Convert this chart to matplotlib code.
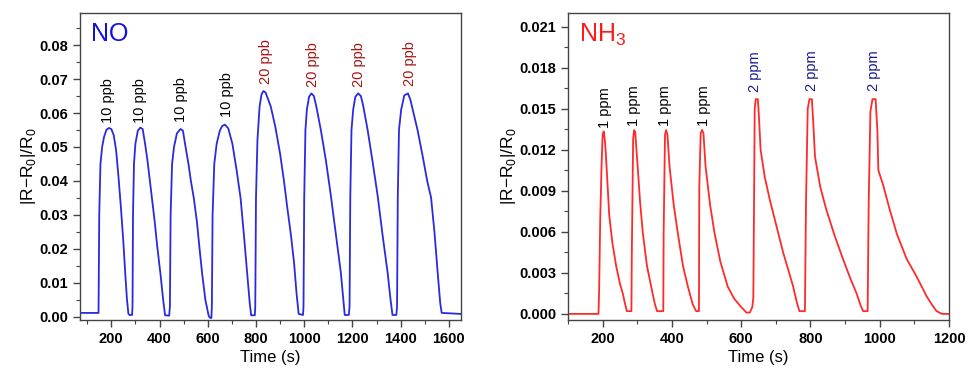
import matplotlib
matplotlib.use('Agg')
import matplotlib.pyplot as plt
from matplotlib.ticker import MultipleLocator

plt.rcParams['font.family'] = ['Liberation Sans', 'DejaVu Sans']
plt.rcParams['mathtext.fontset'] = 'custom'
plt.rcParams['mathtext.rm'] = 'Liberation Sans'

# NO response (time in s, |R-R0|/R0)
no_t = [70, 145, 147, 150, 155, 162, 170, 180, 190, 200, 210, 220, 230, 240, 250, 258, 265, 271, 275, 286,
        288, 290, 294, 300, 310, 320, 330, 340, 350, 360, 370, 380, 390, 404, 415, 423, 440,
        443, 446, 452, 460, 472, 487, 497, 508, 520, 530, 542, 555, 566, 577, 590, 603, 608, 615,
        617, 620, 627, 637, 650, 660, 671, 685, 702, 720, 736, 750, 764, 774, 780, 795,
        797, 800, 806, 815, 823, 831, 840, 861, 880, 900, 916, 930, 945, 958, 968, 977, 995,
        997, 1000, 1005, 1011, 1020, 1030, 1040, 1050, 1069, 1090, 1111, 1130, 1152, 1162, 1168, 1185,
        1188, 1191, 1196, 1203, 1212, 1224, 1235, 1245, 1263, 1285, 1305, 1325, 1346, 1358, 1366, 1382,
        1385, 1388, 1393, 1402, 1415, 1430, 1440, 1450, 1470, 1492, 1510, 1526, 1540, 1554, 1564, 1570,
        1600, 1650]
no_v = [0.0011, 0.0011, 0.0011, 0.030, 0.045, 0.050, 0.053, 0.0551, 0.0556, 0.0553, 0.0535, 0.049, 0.041,
        0.032, 0.022, 0.0125, 0.005, 0.0008, 0.0005, 0.0005,
        0.003, 0.030, 0.045, 0.051, 0.0548, 0.0557, 0.0553, 0.051, 0.046, 0.040, 0.034, 0.028, 0.021,
        0.0125, 0.005, 0.0004, 0.0003,
        0.003, 0.030, 0.045, 0.050, 0.054, 0.0553, 0.0548, 0.050, 0.045, 0.040, 0.035, 0.028, 0.020,
        0.0125, 0.005, 0.0005, -0.0003, -0.0004,
        0.003, 0.030, 0.045, 0.051, 0.0548, 0.0562, 0.0566, 0.0555, 0.051, 0.043, 0.035, 0.024, 0.0125,
        0.004, 0.0004, 0.0004,
        0.003, 0.035, 0.052, 0.062, 0.0655, 0.0665, 0.066, 0.062, 0.056, 0.048, 0.040, 0.032, 0.024,
        0.0158, 0.007, 0.0008, 0.0005,
        0.003, 0.035, 0.055, 0.061, 0.0648, 0.0658, 0.065, 0.062, 0.055, 0.046, 0.0354, 0.025, 0.0129,
        0.005, 0.0005, 0.0005,
        0.003, 0.035, 0.055, 0.061, 0.0648, 0.0658, 0.065, 0.062, 0.055, 0.045, 0.0354, 0.024, 0.0129,
        0.005, 0.0005, 0.0005,
        0.003, 0.035, 0.055, 0.061, 0.0652, 0.0658, 0.064, 0.061, 0.055, 0.047, 0.040, 0.0351, 0.025,
        0.0125, 0.004, 0.0011,
        0.0010, 0.0008]

no_label_t = [188, 321, 487, 681, 840, 1035, 1229, 1437]
no_label_y = [0.0572, 0.0572, 0.0575, 0.0588, 0.0685, 0.0678, 0.0678, 0.0680]
no_labels = ['10 ppb'] * 4 + ['20 ppb'] * 4

# NH3 response
nh3_t = [100, 188, 190, 193, 197, 200, 203, 206, 209, 214, 219, 228, 239, 250, 258, 264, 270, 283,
         284, 288, 291, 294, 297, 301, 308, 316, 328, 340, 350, 357, 375,
         376, 380, 383, 387, 393, 405, 417, 432, 446, 460, 470, 478,
         479, 483, 487, 491, 497, 510, 523, 540, 561, 580, 600, 615, 625, 632,
         635, 637, 639, 642, 648, 651, 656, 668, 683, 700, 721, 735, 750, 760, 768, 784,
         787, 792, 797, 804, 808, 813, 828, 846, 870, 894, 915, 933, 945, 952, 965,
         968, 973, 979, 988, 993, 996, 1010, 1029, 1050, 1078, 1107, 1135, 1150, 1164, 1180, 1200]
nh3_v = [0.0, 0.0, 0.002, 0.007, 0.011, 0.0131, 0.01334, 0.0128, 0.0118, 0.0095, 0.0072, 0.0052, 0.0035,
         0.0022, 0.0015, 0.0008, 0.0002, 0.0002,
         0.004, 0.0128, 0.01343, 0.0133, 0.0122, 0.0108, 0.0082, 0.0059, 0.0035, 0.002, 0.0008, 0.0002, 0.0002,
         0.0058, 0.0131, 0.01344, 0.0131, 0.0108, 0.0080, 0.0059, 0.0035, 0.002, 0.0007, 0.0002, 0.0002,
         0.0093, 0.0132, 0.01345, 0.0132, 0.0108, 0.0080, 0.0059, 0.0038, 0.002, 0.0011, 0.0005, 0.0001,
         0.0001, 0.0005,
         0.0012, 0.008, 0.0150, 0.0157, 0.0157, 0.0145, 0.0120, 0.0100, 0.0083, 0.0066, 0.0045, 0.0033,
         0.002, 0.0009, 0.0002, 0.0002,
         0.008, 0.0150, 0.0157, 0.0157, 0.0140, 0.0115, 0.0093, 0.0076, 0.0057, 0.0040, 0.0026, 0.0015,
         0.0006, 0.0002, 0.0002,
         0.008, 0.0148, 0.0157, 0.0157, 0.0135, 0.0105, 0.0094, 0.0076, 0.0058, 0.0040, 0.0027, 0.0013,
         0.0007, 0.0002, 0.0, 0.0]

nh3_label_t = [208, 290, 381, 492, 641, 805, 983]
nh3_label_y = [0.0136, 0.0137, 0.0137, 0.0137, 0.0162, 0.0163, 0.0163]
nh3_labels = ['1 ppm'] * 4 + ['2 ppm'] * 3

fig = plt.figure(figsize=(9.68, 3.70), dpi=100)
ax1 = fig.add_axes([0.0826, 0.135, 0.3936, 0.830])
ax2 = fig.add_axes([0.5868, 0.135, 0.3936, 0.830])

ax1.plot(no_t, no_v, color='#2a2ae0', lw=1.3)
for t, y, s in zip(no_label_t, no_label_y, no_labels):
    ax1.text(t, y, s, rotation=90, ha='center', va='bottom', fontsize=10.5,
             color='black' if s.startswith('10') else '#a81414')
ax1.text(0.03, 0.97, 'NO', transform=ax1.transAxes, ha='left', va='top',
         fontsize=18, color='#1010e0')
ax1.set_xlim(70, 1650)
ax1.set_ylim(-0.001, 0.0895)
ax1.xaxis.set_major_locator(MultipleLocator(200))
ax1.xaxis.set_minor_locator(MultipleLocator(100))
ax1.yaxis.set_major_locator(MultipleLocator(0.01))
ax1.yaxis.set_minor_locator(MultipleLocator(0.005))
ax1.yaxis.set_major_formatter(plt.FormatStrFormatter('%.2f'))

ax2.plot(nh3_t, nh3_v, color='#ff2a2a', lw=1.3)
for t, y, s in zip(nh3_label_t, nh3_label_y, nh3_labels):
    ax2.text(t, y, s, rotation=90, ha='center', va='bottom', fontsize=10.5,
             color='black' if s.startswith('1') else '#1a1a8c')
ax2.text(0.03, 0.97, r'NH$_\mathregular{3}$', transform=ax2.transAxes, ha='left', va='top',
         fontsize=18, color='#ff1a1a')
ax2.set_xlim(100, 1200)
ax2.set_ylim(-0.00045, 0.022)
ax2.xaxis.set_major_locator(MultipleLocator(200))
ax2.xaxis.set_minor_locator(MultipleLocator(100))
ax2.yaxis.set_major_locator(MultipleLocator(0.003))
ax2.yaxis.set_minor_locator(MultipleLocator(0.0015))
ax2.yaxis.set_major_formatter(plt.FormatStrFormatter('%.3f'))

for ax in (ax1, ax2):
    ax.set_xlabel('Time (s)', fontsize=12, labelpad=3)
    ax.set_ylabel(r'|R$-$R$_\mathregular{0}$|/R$_\mathregular{0}$', fontsize=12.5, labelpad=1)
    for sp in ax.spines.values():
        sp.set_color('#444444')
        sp.set_linewidth(1.0)
    ax.tick_params(which='major', direction='out', length=5, width=1, color='#444444')
    ax.tick_params(which='minor', direction='out', length=3, width=0.8, color='#444444')
    for lab in ax.get_xticklabels() + ax.get_yticklabels():
        lab.set_fontweight('bold')
        lab.set_fontsize(10.5)

fig.savefig('out.png', dpi=100)
